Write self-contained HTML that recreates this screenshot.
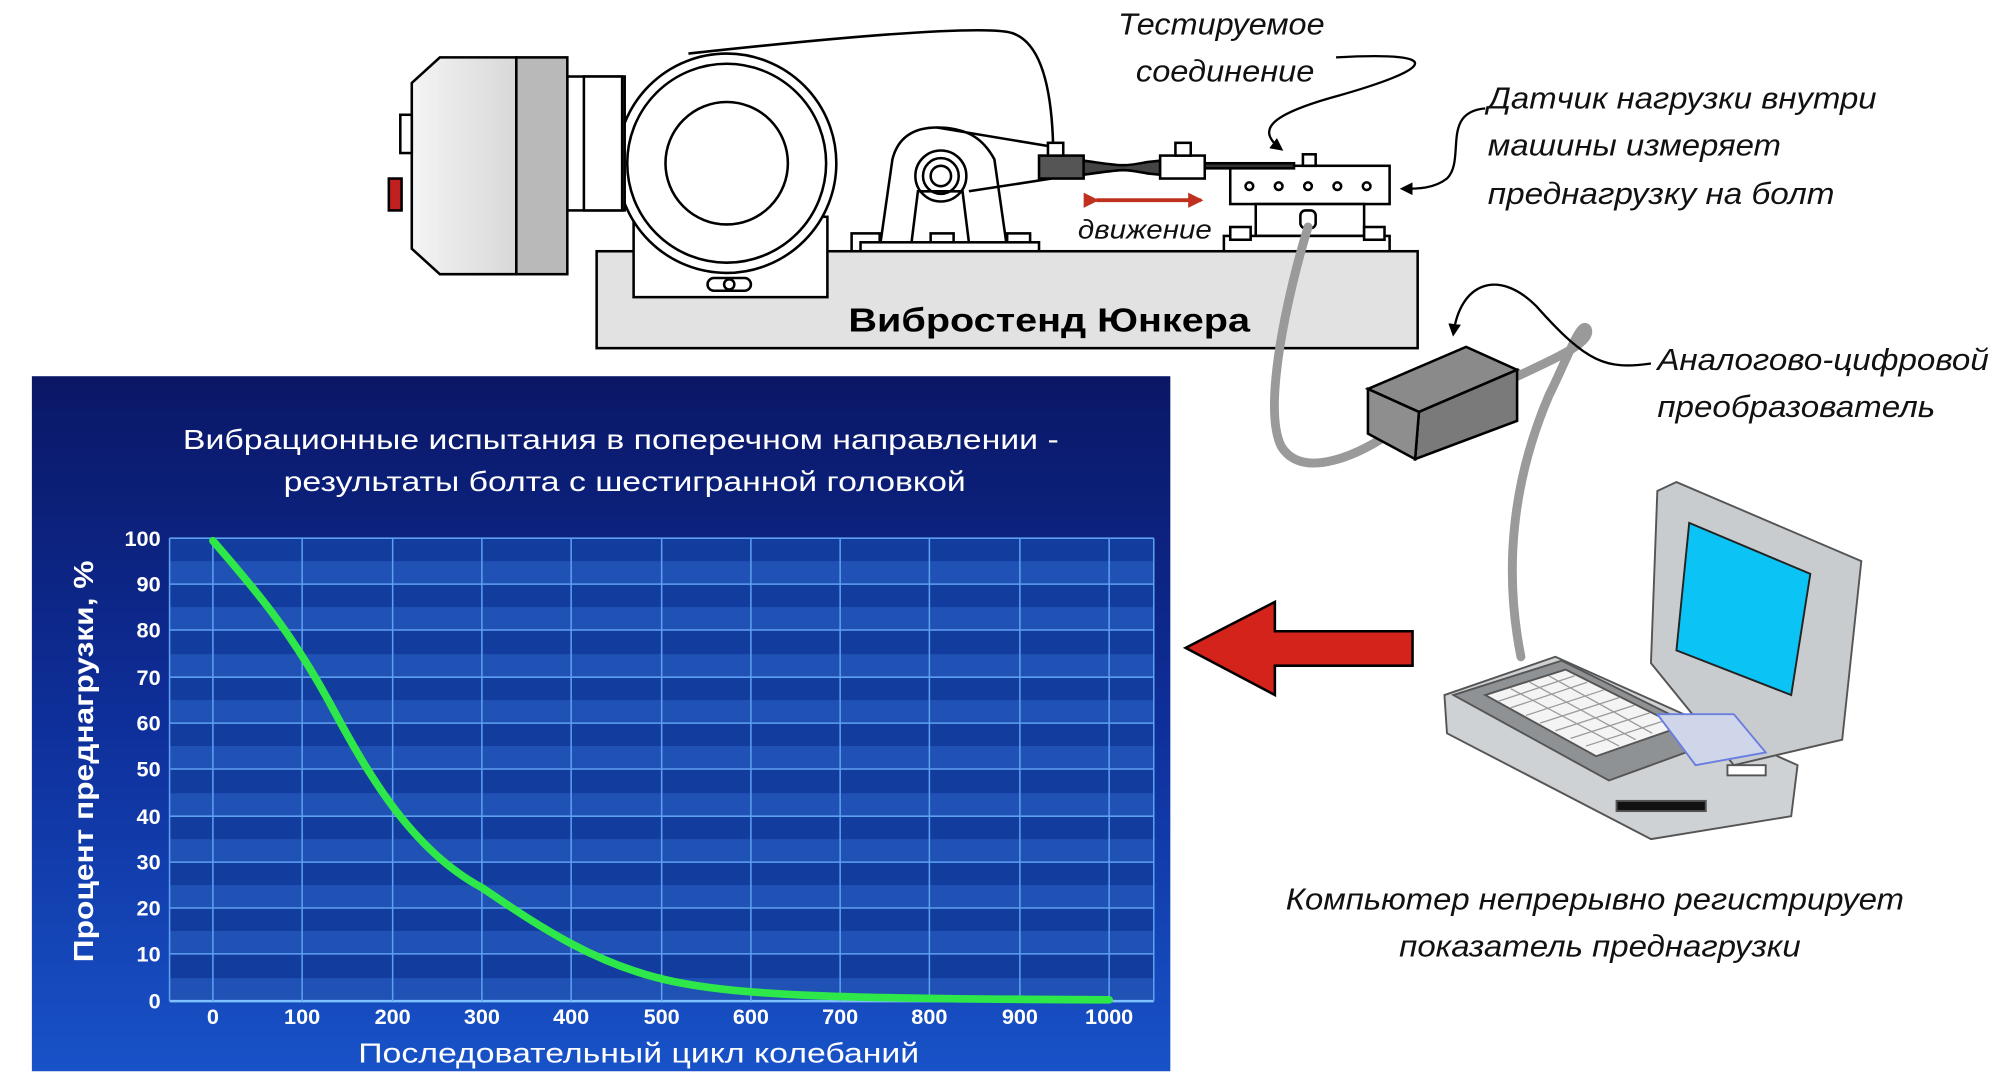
<!DOCTYPE html>
<html><head><meta charset="utf-8"><style>
html,body{margin:0;padding:0;background:#fff;}
svg{display:block;}
</style></head><body>
<svg width="1999" height="1084" viewBox="0 0 1568 850" preserveAspectRatio="none" xmlns="http://www.w3.org/2000/svg" font-family="Liberation Sans, sans-serif">
<defs>
<linearGradient id="bg" x1="0" y1="0" x2="0" y2="1">
<stop offset="0" stop-color="#0a1766"/><stop offset="0.5" stop-color="#0e2f9a"/><stop offset="1" stop-color="#1852c8"/>
</linearGradient>
<linearGradient id="cap" x1="0" y1="0" x2="1" y2="0">
<stop offset="0" stop-color="#f4f4f4"/><stop offset="1" stop-color="#d8d8d8"/>
</linearGradient>
<marker id="ah" markerWidth="10" markerHeight="10" refX="8" refY="5" orient="auto" markerUnits="userSpaceOnUse">
<path d="M0,0 L10,5 L0,10 Z" fill="#000"/></marker>
<marker id="rh" markerWidth="12" markerHeight="12" refX="10" refY="6" orient="auto" markerUnits="userSpaceOnUse">
<path d="M0,0 L12,6 L0,12 Z" fill="#c0301e"/></marker>
</defs>

<!-- Chart panel -->
<rect x="25" y="295" width="893" height="545" fill="url(#bg)"/>
<g>
<rect x="133" y="422" width="772" height="363" fill="#123c9e"/>
<g fill="#2a64c6" opacity="0.55">
<rect x="133" y="440" width="772" height="18"/><rect x="133" y="476" width="772" height="18"/>
<rect x="133" y="513" width="772" height="18"/><rect x="133" y="549" width="772" height="18"/>
<rect x="133" y="585" width="772" height="18"/><rect x="133" y="622" width="772" height="18"/>
<rect x="133" y="658" width="772" height="18"/><rect x="133" y="694" width="772" height="18"/>
<rect x="133" y="730" width="772" height="18"/><rect x="133" y="767" width="772" height="18"/>
</g>
<g stroke="#5ea0f0" stroke-width="1.2">
<line x1="133" y1="422" x2="905" y2="422"/><line x1="133" y1="458" x2="905" y2="458"/>
<line x1="133" y1="494" x2="905" y2="494"/><line x1="133" y1="531" x2="905" y2="531"/>
<line x1="133" y1="567" x2="905" y2="567"/><line x1="133" y1="603" x2="905" y2="603"/>
<line x1="133" y1="640" x2="905" y2="640"/><line x1="133" y1="676" x2="905" y2="676"/>
<line x1="133" y1="712" x2="905" y2="712"/><line x1="133" y1="748" x2="905" y2="748"/>
<line x1="133" y1="785" x2="905" y2="785" stroke="#7fc0ff" stroke-width="2"/>
<line x1="133" y1="422" x2="133" y2="785"/><line x1="905" y1="422" x2="905" y2="785"/>
<line x1="167" y1="422" x2="167" y2="785"/><line x1="237" y1="422" x2="237" y2="785"/>
<line x1="308" y1="422" x2="308" y2="785"/><line x1="378" y1="422" x2="378" y2="785"/>
<line x1="448" y1="422" x2="448" y2="785"/><line x1="519" y1="422" x2="519" y2="785"/>
<line x1="589" y1="422" x2="589" y2="785"/><line x1="659" y1="422" x2="659" y2="785"/>
<line x1="729" y1="422" x2="729" y2="785"/><line x1="800" y1="422" x2="800" y2="785"/>
<line x1="870" y1="422" x2="870" y2="785"/>
</g>
<path d="M167,424 C200,462 228,495 258,550 C285,600 320,665 378,696 C425,728 470,758 530,770 C590,782 680,783 870,784" fill="none" stroke="#2ee84a" stroke-width="6" stroke-linecap="round"/>
</g>
<g fill="#fff" font-weight="bold">
<text x="487" y="352" font-size="22" text-anchor="middle" textLength="687" lengthAdjust="spacingAndGlyphs" font-weight="normal">Вибрационные испытания в поперечном направлении -</text>
<text x="490" y="385" font-size="22" text-anchor="middle" textLength="535" lengthAdjust="spacingAndGlyphs" font-weight="normal">результаты болта с шестигранной головкой</text>
<g font-size="17" text-anchor="end">
<text x="126" y="428">100</text><text x="126" y="464">90</text><text x="126" y="500">80</text>
<text x="126" y="537">70</text><text x="126" y="573">60</text><text x="126" y="609">50</text>
<text x="126" y="646">40</text><text x="126" y="682">30</text><text x="126" y="718">20</text>
<text x="126" y="754">10</text><text x="126" y="791">0</text>
</g>
<g font-size="17" text-anchor="middle">
<text x="167" y="803">0</text><text x="237" y="803">100</text><text x="308" y="803">200</text>
<text x="378" y="803">300</text><text x="448" y="803">400</text><text x="519" y="803">500</text>
<text x="589" y="803">600</text><text x="659" y="803">700</text><text x="729" y="803">800</text>
<text x="800" y="803">900</text><text x="870" y="803">1000</text>
</g>
<text x="501" y="833" font-size="22" text-anchor="middle" font-weight="normal" textLength="440" lengthAdjust="spacingAndGlyphs">Последовательный цикл колебаний</text>
<text transform="translate(73,597) rotate(-90)" font-size="22" text-anchor="middle" textLength="315" lengthAdjust="spacingAndGlyphs">Процент преднагрузки, %</text>
</g>

<!-- Red arrow -->
<path d="M930,508 L1000,472 L1000,495 L1108,495 L1108,522 L1000,522 L1000,545 Z" fill="#d4231b" stroke="#000" stroke-width="2"/>

<!-- Machine -->
<g stroke="#000" stroke-width="2" fill="#fff">
<rect x="468" y="197" width="644" height="76" fill="#e2e2e2"/>
<path d="M540,42 C650,30 760,20 790,25 C820,30 825,80 826,112" fill="none"/>
<rect x="497" y="170" width="152" height="63"/>
<rect x="555" y="218" width="34" height="10" rx="5"/>
<circle cx="572" cy="223" r="4"/>
<circle cx="570" cy="128" r="86"/>
<circle cx="570" cy="128" r="78"/>
<circle cx="570" cy="128" r="48"/>
<rect x="445" y="60" width="45" height="105"/>
<rect x="458" y="60" width="30" height="105"/>
<path d="M323,65 L345,45 L405,45 L405,215 L345,215 L323,195 Z" fill="url(#cap)"/>
<rect x="405" y="45" width="40" height="170" fill="#b9b9b9"/>
<rect x="314" y="90" width="9" height="30"/>
<rect x="305" y="140" width="10" height="25" fill="#c02020"/>
<path d="M690,195 L700,125 C705,105 720,100 735,100 C760,100 772,110 780,125 L790,195 Z"/>
<path d="M735,100 L825,115 M760,150 L825,140" fill="none"/>
<circle cx="738" cy="138" r="20"/><circle cx="738" cy="138" r="14"/><circle cx="738" cy="138" r="8"/>
<path d="M715,190 L720,150 L755,150 L760,190" fill="none"/>
<rect x="668" y="183" width="22" height="14"/><rect x="730" y="183" width="18" height="14"/><rect x="790" y="183" width="18" height="14"/>
<rect x="675" y="190" width="140" height="7"/>
<rect x="815" y="122" width="35" height="18" fill="#555"/>
<rect x="822" y="112" width="12" height="10"/>
<path d="M850,126 C880,130 880,131 900,127 L910,126 L910,137 L900,136 C880,132 880,133 850,137 Z" fill="#444"/>
<rect x="910" y="122" width="35" height="18"/>
<rect x="922" y="112" width="12" height="10"/>
<rect x="965" y="130" width="125" height="30"/>
<circle cx="980" cy="146" r="3"/><circle cx="1003" cy="146" r="3"/><circle cx="1026" cy="146" r="3"/><circle cx="1049" cy="146" r="3"/><circle cx="1072" cy="146" r="3"/>
<rect x="985" y="160" width="85" height="25"/>
<rect x="960" y="185" width="130" height="12"/>
<rect x="965" y="178" width="16" height="10"/><rect x="1070" y="178" width="16" height="10"/>
<rect x="1020" y="165" width="12" height="14" rx="4"/>
<rect x="945" y="128" width="70" height="4" fill="#333"/>
<rect x="1022" y="121" width="10" height="9"/>
</g>
<line x1="860" y1="157" x2="942" y2="157" stroke="#c0301e" stroke-width="3" marker-end="url(#rh)" marker-start="url(#rh)"/>
<text x="823" y="260" font-size="26" font-weight="bold" text-anchor="middle" textLength="315" lengthAdjust="spacingAndGlyphs">Вибростенд Юнкера</text>

<!-- cables -->
<g fill="none" stroke="#9a9a9a" stroke-width="7" stroke-linecap="round">
<path d="M1026,178 C1010,230 990,320 1005,350 C1020,375 1060,360 1090,340"/>
<path d="M1180,300 C1210,285 1250,270 1245,258 C1240,250 1230,280 1215,310 C1185,380 1180,450 1193,515"/>
</g>
<!-- ADC box -->
<g stroke="#000" stroke-width="2">
<path d="M1073,305 L1150,272 L1190,290 L1113,323 Z" fill="#8a8a8a"/>
<path d="M1113,323 L1190,290 L1190,330 L1110,360 Z" fill="#7a7a7a"/>
<path d="M1073,305 L1113,323 L1110,360 L1073,340 Z" fill="#8e8e8e"/>
</g>

<!-- laptop -->
<g stroke="#555" stroke-width="1.5">
<path d="M1133,545 L1220,515 L1410,600 L1405,640 L1295,658 L1135,575 Z" fill="#cfd2d4"/>
<path d="M1140,545 L1225,518 L1350,580 L1262,612 Z" fill="#8f9295"/>
<path d="M1165,545 L1228,525 L1318,570 L1252,593 Z" fill="#f4f4f4"/>
<g stroke="#9a9a9a" stroke-width="1">
<path d="M1175,550 L1235,530 M1185,555 L1245,535 M1197,561 L1258,541 M1208,567 L1270,547 M1220,573 L1282,553 M1232,579 L1294,559 M1244,585 L1306,565"/>
<path d="M1185,540 L1270,585 M1200,535 L1283,580 M1215,530 L1296,575"/>
</g>
<path d="M1295,520 L1300,385 L1315,378 L1460,440 L1445,580 L1360,600 Z" fill="#c9cccf"/>
<path d="M1325,410 L1420,450 L1405,545 L1315,510 Z" fill="#0bc3f5" stroke="#222"/>
<path d="M1300,560 L1360,560 L1385,590 L1330,600 Z" fill="#cfd6ea" stroke="#6a7ee0"/>
<rect x="1268" y="628" width="70" height="8" fill="#111"/>
<rect x="1355" y="600" width="30" height="8" fill="#fff"/>
</g>

<!-- leaders -->
<g fill="none" stroke="#000" stroke-width="1.8">
<path d="M1048,45 C1140,40 1120,55 1050,75 C995,90 985,102 1005,117" marker-end="url(#ah)"/>
<path d="M1165,85 C1130,88 1150,125 1135,140 C1125,148 1112,148 1100,148" marker-end="url(#ah)"/>
<path d="M1295,285 C1260,290 1245,285 1205,240 C1175,210 1145,222 1140,262" marker-end="url(#ah)"/>
</g>

<g font-style="italic" font-size="24" fill="#111">
<text x="958" y="27" text-anchor="middle" textLength="162" lengthAdjust="spacingAndGlyphs">Тестируемое</text>
<text x="961" y="64" text-anchor="middle" textLength="140" lengthAdjust="spacingAndGlyphs">соединение</text>
<text x="1167" y="85" textLength="305" lengthAdjust="spacingAndGlyphs">Датчик нагрузки внутри</text>
<text x="1167" y="122" textLength="230" lengthAdjust="spacingAndGlyphs">машины измеряет</text>
<text x="1167" y="160" textLength="272" lengthAdjust="spacingAndGlyphs">преднагрузку на болт</text>
<text x="898" y="187" text-anchor="middle" font-size="21" textLength="105" lengthAdjust="spacingAndGlyphs">движение</text>
<text x="1300" y="290" textLength="260" lengthAdjust="spacingAndGlyphs">Аналогово-цифровой</text>
<text x="1300" y="327" textLength="218" lengthAdjust="spacingAndGlyphs">преобразователь</text>
<text x="1251" y="713" text-anchor="middle" textLength="485" lengthAdjust="spacingAndGlyphs">Компьютер непрерывно регистрирует</text>
<text x="1255" y="750" text-anchor="middle" textLength="315" lengthAdjust="spacingAndGlyphs">показатель преднагрузки</text>
</g>
</svg>
</body></html>
